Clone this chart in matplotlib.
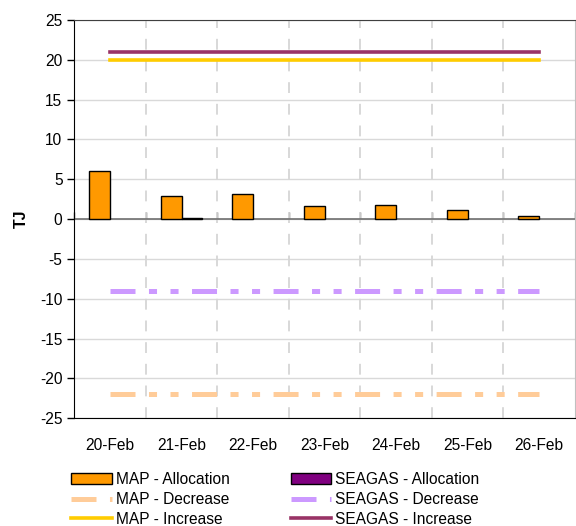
import numpy as np
import matplotlib as mpl
import matplotlib.pyplot as plt

plt.rcParams['font.family'] = ['Liberation Sans', 'DejaVu Sans']
plt.rcParams['font.size'] = 11.2
plt.rcParams['axes.unicode_minus'] = False

dates = ['20-Feb', '21-Feb', '22-Feb', '23-Feb', '24-Feb', '25-Feb', '26-Feb']
map_alloc = [6.1, 2.9, 3.1, 1.7, 1.8, 1.1, 0.4]
seagas_alloc = [0.0, 0.15, 0.0, 0.0, 0.0, 0.0, 0.0]
map_decrease = [-22, -22, -22, -22, -22, -22, -22]
seagas_decrease = [-9, -9, -9, -9, -9, -9, -9]
map_increase = [20, 20, 20, 20, 20, 20, 20]
seagas_increase = [21, 21, 21, 21, 21, 21, 21]

x = np.arange(len(dates))
w = 0.29

fig = plt.figure(figsize=(5.76, 5.26), dpi=100)
ax = fig.add_axes([0.129, 0.205, 0.869, 0.757])

# dash pattern: long, gap, short, gap, short, gap (points)
dash = (18, 9.7, 5.8, 9.7, 5.8, 9.7)

ax.bar(x - w/2, map_alloc, w, color='#FF9900', edgecolor='black',
       lw=[1 if v else 0 for v in map_alloc], zorder=3)
ax.bar(x + w/2, seagas_alloc, w, color='#800080', edgecolor='black',
       lw=[1 if v else 0 for v in seagas_alloc], zorder=3)
l1, = ax.plot(x, map_decrease, color='#FFCC99', lw=3.6, zorder=4, label='MAP - Decrease')
l2, = ax.plot(x, seagas_decrease, color='#CC99FF', lw=3.6, zorder=4, label='SEAGAS - Decrease')
for l in (l1, l2):
    l.set_dashes([d / 3.6 for d in dash])
    l.set_dash_capstyle('butt')
l3, = ax.plot(x, map_increase, color='#FFCC00', lw=2.6, zorder=4, label='MAP - Increase')
l4, = ax.plot(x, seagas_increase, color='#993366', lw=2.6, zorder=4, label='SEAGAS - Increase')

ax.set_xlim(-0.5, len(dates) - 0.5)
ax.set_ylim(-25, 25)
ax.set_yticks(np.arange(-25, 26, 5))
ax.yaxis.grid(True, color='#D9D9D9', lw=1, zorder=0)
ax.set_axisbelow(True)
ax.tick_params(axis='y', direction='out', length=5, width=1, colors='black')
ax.set_ylabel('TJ', fontweight='bold', fontsize=11.5, labelpad=8)

ax.set_xticks(x)
ax.set_xticklabels(dates)
ax.tick_params(axis='x', length=0, pad=14)

# vertical dashed separators between categories
for b in np.arange(0.5, len(dates) - 0.5, 1):
    ax.axvline(b, color='#D6D6D6', lw=1.3, ls=(0, (6, 6)), zorder=1)

# zero axis with tick marks
ax.axhline(0, color='#707070', lw=1.2, zorder=2)
sec = ax.secondary_xaxis(0.5)
sec.set_xticks(np.arange(-0.5, len(dates), 1))
sec.set_xticklabels([])
sec.tick_params(direction='out', length=5, width=1, colors='#505050')
sec.spines['bottom'].set_visible(False)
sec.spines['top'].set_visible(False)

ax.spines['left'].set_color('black')
ax.spines['bottom'].set_color('black')
ax.spines['top'].set_color('#404040')
ax.spines['right'].set_color('#C0C0C0')

p1 = mpl.patches.Patch(facecolor='#FF9900', edgecolor='black', lw=1)
p2 = mpl.patches.Patch(facecolor='#800080', edgecolor='black', lw=1)
fig.legend([p1, l1, l3, p2, l2, l4],
           ['MAP - Allocation', 'MAP - Decrease', 'MAP - Increase',
            'SEAGAS - Allocation', 'SEAGAS - Decrease', 'SEAGAS - Increase'],
           ncol=2, frameon=False,
           loc='lower left', bbox_to_anchor=(0.105, -0.022),
           handlelength=2.6, handletextpad=0.25, columnspacing=3.95,
           labelspacing=0.3, borderpad=0.2)

fig.savefig('out.png', dpi=100)
